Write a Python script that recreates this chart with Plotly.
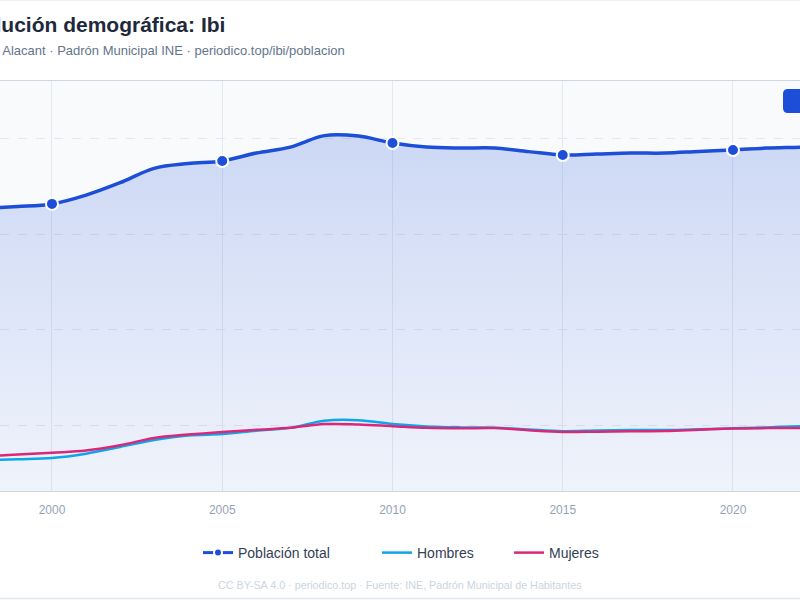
import plotly.graph_objects as go

years = list(range(1996, 2025))
total = [21000, 21050, 21080, 21150, 21260, 21630, 22150, 22750, 22950, 23060,
         23390, 23640, 24120, 24100, 23810, 23640, 23600, 23600, 23450, 23310,
         23350, 23390, 23390, 23460, 23520, 23600, 23640, 23700, 23800]
hombres = [10500, 10510, 10530, 10570, 10620, 10800, 11080, 11370, 11560, 11620,
           11760, 11880, 12180, 12200, 12040, 11940, 11900, 11890, 11810, 11740,
           11770, 11790, 11790, 11820, 11860, 11900, 11950, 11980, 12020]
mujeres = [10660, 10680, 10700, 10760, 10840, 10930, 11150, 11460, 11600, 11710,
           11800, 11880, 12040, 12020, 11950, 11880, 11860, 11870, 11780, 11710,
           11720, 11740, 11750, 11800, 11850, 11870, 11880, 11900, 11930]
marker_years = [2000, 2005, 2010, 2015, 2020]

title = "Evolución demográfica: Ibi"
subtitle = "Alcoià · Alacant · Padrón Municipal INE · periodico.top/ibi/poblacion"
footer = "CC BY-SA 4.0 · periodico.top · Fuente: INE, Padrón Municipal de Habitantes"

BLUE = "#1d4ed8"
SKY = "#0ea5e9"
PINK = "#db2777"
FONT = "Liberation Sans, Arial, sans-serif"

Y0, Y1 = 9236, 26408
X0, X1 = 1998.473, 2021.968

fig = go.Figure()
fig.add_trace(go.Scatter(
    x=years, y=total, mode="lines", line=dict(color=BLUE, width=3.5, shape="spline", smoothing=1.0),
    fill="tozeroy",
    fillgradient=dict(type="vertical", start=Y0, stop=24200,
                      colorscale=[[0, "rgba(29,78,216,0.04)"], [1, "rgba(29,78,216,0.2)"]]),
    showlegend=False, hoverinfo="skip"))
fig.add_trace(go.Scatter(
    x=years, y=hombres, mode="lines", name="Hombres",
    line=dict(color=SKY, width=2.5, shape="spline", smoothing=1.0), showlegend=False))
fig.add_trace(go.Scatter(
    x=years, y=mujeres, mode="lines", name="Mujeres",
    line=dict(color=PINK, width=2.5, shape="spline", smoothing=1.0), showlegend=False))
mk_y = [total[years.index(yr)] for yr in marker_years]
fig.add_trace(go.Scatter(
    x=marker_years, y=mk_y, mode="markers",
    marker=dict(color=BLUE, size=12, line=dict(color="white", width=2)),
    showlegend=False))
# legend entries
fig.add_trace(go.Scatter(x=[None], y=[None], mode="lines+markers", name="Población total",
                         line=dict(color=BLUE, width=3), legend="legend",
                         marker=dict(color=BLUE, size=8, line=dict(color="white", width=2))))
fig.add_trace(go.Scatter(x=[None], y=[None], mode="lines", name="Hombres", legend="legend2",
                         line=dict(color=SKY, width=2.5)))
fig.add_trace(go.Scatter(x=[None], y=[None], mode="lines", name="Mujeres", legend="legend3",
                         line=dict(color=PINK, width=2.5)))

def py(px):
    return (491 - px) / 410.0

def leg(px):
    return dict(orientation="h", x=px / 800, xanchor="left", y=py(553), yanchor="middle",
                font=dict(size=14, color="#334155"), itemwidth=30, bgcolor="rgba(0,0,0,0)")

fig.update_layout(
    width=800, height=600,
    margin=dict(l=0, r=0, t=81, b=109),
    paper_bgcolor="white", plot_bgcolor="#f8fafc",
    font=dict(family=FONT, color="#334155"),
    xaxis=dict(range=[X0, X1], tick0=2000, dtick=5, showgrid=True, gridcolor="#e4e8ef",
               gridwidth=1, zeroline=False, showline=True, linecolor="#cfd6e1", linewidth=1,
               mirror=True, ticks="", ticklabelstandoff=8, tickfont=dict(size=12, color="#94a3b8")),
    yaxis=dict(range=[Y0, Y1], tick0=0, dtick=4000, showgrid=True, gridcolor="#e2e8f0",
               griddash="dash", zeroline=False, showticklabels=False, showline=False),
    legend=leg(207 - 9), legend2=leg(387 - 10), legend3=leg(518 - 9),
    showlegend=True,
    hovermode=False,
)

fig.add_annotation(text="<b>" + title + "</b>", xref="paper", yref="paper", x=-45 / 800, y=py(24),
                   xanchor="left", yanchor="middle", showarrow=False,
                   font=dict(size=21, color="#1e293b", family=FONT))
fig.add_annotation(text=subtitle, xref="paper", yref="paper", x=-46 / 800, y=py(51),
                   xanchor="left", yanchor="middle", showarrow=False,
                   font=dict(size=13, color="#64748b", family=FONT))
fig.add_annotation(text=footer, xref="paper", yref="paper", x=0.5, y=py(585),
                   xanchor="center", yanchor="middle", showarrow=False,
                   font=dict(size=10.75, color="#cbd5e1", family=FONT))

# button (top right)
x1, x2 = 783 / 800, 815 / 800
ya, yb = py(89), py(113)
rx, ry = 5 / 800, 5 / 410
path = (f"M{x1+rx},{ya} L{x2},{ya} L{x2},{yb} L{x1+rx},{yb} "
        f"Q{x1},{yb} {x1},{yb+ry} L{x1},{ya-ry} Q{x1},{ya} {x1+rx},{ya} Z")
fig.add_shape(type="path", path=path, xref="paper", yref="paper",
              fillcolor="#1d4ed8", line=dict(width=0))
# card borders
fig.add_shape(type="line", xref="paper", yref="paper", x0=0, x1=1, y0=py(598.5), y1=py(598.5),
              line=dict(color="#e2e8f0", width=1.5))
fig.add_shape(type="line", xref="paper", yref="paper", x0=0, x1=1, y0=py(0.5), y1=py(0.5),
              line=dict(color="#eef1f5", width=1))

fig.write_html("out.html")
